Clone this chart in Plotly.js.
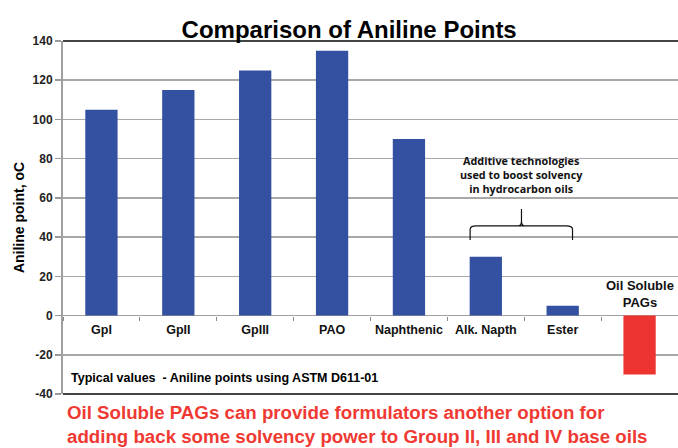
<!DOCTYPE html>
<html>
<head>
<meta charset="utf-8">
<script src="https://cdn.plot.ly/plotly-3.0.1.min.js"></script>
<style>
html,body{margin:0;padding:0;background:#fff;}
#chart{width:678px;height:448px;}
</style>
</head>
<body>
<div id="chart"></div>
<script>
const categories = ["GpI", "GpII", "GpIII", "PAO", "Naphthenic", "Alk. Napth", "Ester", "PAGs"];
const tickLabels = ["GpI", "GpII", "GpIII", "PAO", "Naphthenic", "Alk. Napth", "Ester", ""];
const anilinePoints = [105, 115, 125, 135, 90, 30, 5, -30];
const barColors = ["#3450a0", "#3450a0", "#3450a0", "#3450a0", "#3450a0", "#3450a0", "#3450a0", "#ee3431"];
const yTicks = [-40, -20, 0, 20, 40, 60, 80, 100, 120, 140];

const FONT = "Arial, 'Liberation Sans', sans-serif";

const trace = {
  type: "bar",
  x: categories,
  y: anilinePoints,
  marker: {color: barColors, line: {width: 0}},
  width: 0.42,
  hoverinfo: "x+y"
};

const yMin = -40, yMax = 140;
const zeroPos = (0 - yMin) / (yMax - yMin);

const layout = {
  width: 678,
  height: 448,
  margin: {l: 63, r: 0, t: 41, b: 54, pad: 0},
  paper_bgcolor: "#ffffff",
  plot_bgcolor: "#ffffff",
  showlegend: false,
  title: {
    text: "<b>Comparison of Aniline Points</b>",
    font: {family: "'Liberation Sans Narrow', Arial, sans-serif", size: 24, color: "#000"},
    x: 0.515, xanchor: "center",
    y: 0.915, yanchor: "bottom"
  },
  xaxis: {
    type: "category",
    anchor: "free",
    position: zeroPos,
    tickmode: "array",
    tickvals: categories,
    ticktext: tickLabels.map(t => t ? "<b>" + t + "</b>" : ""),
    tickson: "boundaries",
    tickangle: 0,
    ticks: "outside",
    ticklen: 4,
    tickwidth: 1,
    tickcolor: "#888",
    ticklabelstandoff: 5,
    showline: false,
    showgrid: false,
    zeroline: false,
    tickfont: {family: FONT, size: 12.5, color: "#111"},
    range: [-0.5, 7.5],
    fixedrange: true
  },
  yaxis: {
    range: [yMin, yMax],
    tickmode: "array",
    tickvals: yTicks,
    ticktext: yTicks.map(v => "<b>" + v + "</b>"),
    ticks: "outside",
    ticklen: 6,
    tickwidth: 1.5,
    tickcolor: "#999",
    showline: true,
    linecolor: "#a0a0a0",
    linewidth: 2,
    showgrid: true,
    gridcolor: "#a8a8a8",
    gridwidth: 1.5,
    zeroline: true,
    zerolinecolor: "#a0a0a0",
    zerolinewidth: 1.5,
    tickfont: {family: FONT, size: 12, color: "#222"},
    title: {
      text: "<b>Aniline point, oC</b>",
      font: {family: FONT, size: 14, color: "#000"},
      standoff: 5
    },
    fixedrange: true
  },
  shapes: [
    {type: "line", xref: "paper", yref: "paper", x0: 0, x1: 1, y0: 1, y1: 1,
     line: {color: "#444", width: 2}},
    {type: "line", xref: "paper", yref: "paper", x0: 0, x1: 1, y0: 0, y1: 0,
     line: {color: "#444", width: 2}},
    {type: "path", xref: "paper", yref: "paper",
     path: "M0.662,0.436 L0.662,0.466 Q0.662,0.476 0.672,0.476 L0.818,0.476 Q0.8285,0.476 0.8285,0.466 L0.8285,0.436 M0.740,0.476 Q0.7455,0.476 0.7455,0.490 L0.7455,0.524 M0.751,0.476 Q0.7455,0.476 0.7455,0.490",
     line: {color: "#111", width: 1.2}}
  ],
  annotations: [
    {xref: "paper", yref: "paper", x: 0.7455, y: 0.555, xanchor: "center", yanchor: "bottom",
     text: "<b>Additive technologies<br>used to boost solvency<br>in hydrocarbon oils</b>",
     showarrow: false, align: "center",
     font: {family: "'Open Sans', " + FONT, size: 10.8, color: "#111"}},
    {xref: "x", yref: "y", x: "PAGs", y: 0, xanchor: "center", yanchor: "bottom", yshift: 4,
     text: "<b>Oil Soluble<br>PAGs</b>", showarrow: false, align: "center",
     font: {family: FONT, size: 13, color: "#111"}},
    {xref: "paper", yref: "paper", x: 0.01, y: 0.045, xanchor: "left", yanchor: "middle",
     text: "<b>Typical values  - Aniline points using ASTM D611-01</b>", showarrow: false,
     font: {family: FONT, size: 12.5, color: "#000"}},
    {xref: "paper", yref: "paper", x: 0.003, y: -0.017, xanchor: "left", yanchor: "top",
     text: "<b>Oil Soluble PAGs can provide formulators another option for<br>adding back some solvency power to Group II, III and IV base oils</b>",
     showarrow: false, align: "left",
     font: {family: FONT, size: 18.7, color: "#ef3a33"}}
  ]
};

Plotly.newPlot("chart", [trace], layout, {displayModeBar: false, staticPlot: true});
</script>
</body>
</html>
